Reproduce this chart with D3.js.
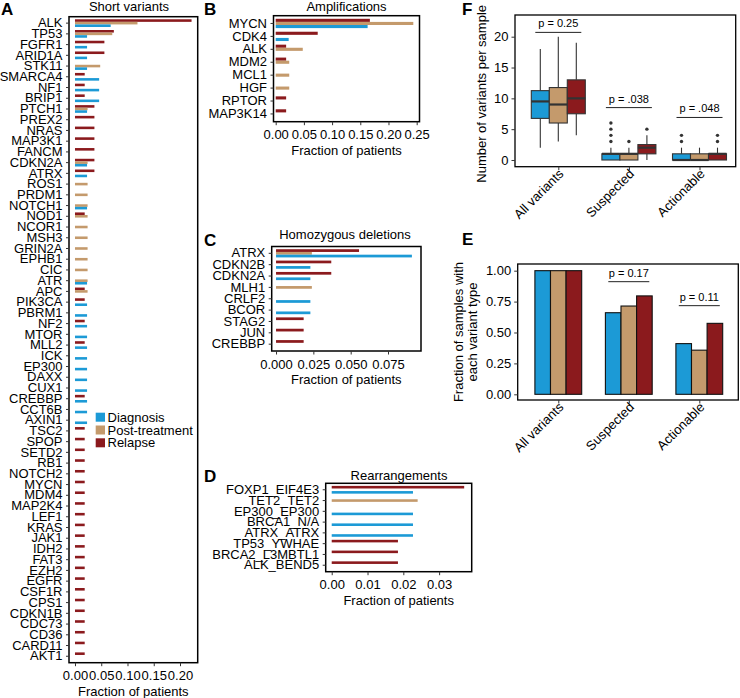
<!DOCTYPE html>
<html><head><meta charset="utf-8">
<script src="https://cdn.jsdelivr.net/npm/d3@7"></script>
<style>
body{margin:0;background:#fff}
svg{display:block}
text{font-family:"Liberation Sans",Arial,Helvetica,sans-serif}
</style>
</head><body>
<svg id="c" width="740" height="698"></svg>
<script>
// ---------------- DATA ----------------
const seriesNames = ["Diagnosis", "Post-treatment", "Relapse"];
const seriesColors = ["#1C9AD6", "#C49A6C", "#8B1A1D"];

// Panel A: short variants
const shortGenes = ["ALK","TP53","FGFR1","ARID1A","STK11","SMARCA4","NF1","BRIP1","PTCH1","PREX2","NRAS","MAP3K1","FANCM","CDKN2A","ATRX","ROS1","PRDM1","NOTCH1","NOD1","NCOR1","MSH3","GRIN2A","EPHB1","CIC","ATR","APC","PIK3CA","PBRM1","NF2","MTOR","MLL2","ICK","EP300","DAXX","CUX1","CREBBP","CCT6B","AXIN1","TSC2","SPOP","SETD2","RB1","NOTCH2","MYCN","MDM4","MAP2K4","LEF1","KRAS","JAK1","IDH2","FAT3","EZH2","EGFR","CSF1R","CPS1","CDKN1B","CDC73","CD36","CARD11","AKT1"];
const shortRelapse = [0.222,0.074,0.056,0.056,0,0.0185,0.0185,0.0185,0.037,0.037,0.037,0.037,0.037,0.037,0.037,0,0,0,0.0185,0,0,0,0,0,0,0.0185,0.0185,0,0.0185,0,0.0185,0,0,0,0,0.0185,0,0,0.0185,0.0185,0.0185,0.0185,0.0185,0.0185,0.0185,0.0185,0.0185,0.0185,0.0185,0.0185,0.0185,0.0185,0.0185,0.0185,0.0185,0.0185,0.0185,0.0185,0.0185,0.0185];
const shortPost    = [0.119,0.071,0,0,0.048,0,0,0,0.024,0,0,0,0,0.024,0,0.024,0.024,0.024,0.024,0.024,0.024,0.024,0.024,0.024,0.024,0.024,0,0,0,0,0,0,0,0,0,0,0,0,0,0,0,0,0,0,0,0,0,0,0,0,0,0,0,0,0,0,0,0,0,0];
const shortDiag    = [0.068,0.023,0.023,0.023,0.023,0.046,0.046,0.046,0.023,0,0,0,0,0.023,0.023,0,0,0.023,0,0,0,0,0,0,0.023,0,0.023,0.023,0.023,0.023,0.023,0.023,0.023,0.023,0.023,0.023,0.023,0.023,0,0,0,0,0,0,0,0,0,0,0,0,0,0,0,0,0,0,0,0,0,0];
const shortTicks = [0, 0.05, 0.10, 0.15, 0.20];

// Panel B: amplifications
const ampGenes = ["MYCN","CDK4","ALK","MDM2","MCL1","HGF","RPTOR","MAP3K14"];
const ampRelapse = [0.167,0.0745,0.0185,0.0185,0,0,0.0185,0.0185];
const ampPost    = [0.244,0,0.048,0.024,0.024,0.024,0,0];
const ampDiag    = [0.163,0.023,0,0,0,0,0,0];
const ampTicks = [0, 0.05, 0.10, 0.15, 0.20, 0.25];

// Panel C: homozygous deletions
const delGenes = ["ATRX","CDKN2B","CDKN2A","MLH1","CRLF2","BCOR","STAG2","JUN","CREBBP"];
const delRelapse = [0.0556,0.037,0.037,0,0,0,0.0185,0.0185,0.0185];
const delPost    = [0.024,0,0,0.024,0,0,0,0,0];
const delDiag    = [0.091,0.023,0.023,0,0.023,0.023,0,0,0];
const delTicks = [0, 0.025, 0.050, 0.075];

// Panel D: rearrangements
const rearGenes = ["FOXP1_EIF4E3","TET2_TET2","EP300_EP300","BRCA1_N/A","ATRX_ATRX","TP53_YWHAE","BRCA2_L3MBTL1","ALK_BEND5"];
const rearRelapse = [0.037,0,0,0,0,0.0185,0.0185,0.0185];
const rearPost    = [0,0.024,0,0,0,0,0,0];
const rearDiag    = [0.0227,0,0.0227,0.0227,0.0227,0,0,0];
const rearTicks = [0, 0.01, 0.02, 0.03];

// Panel F: variants per sample (box stats: min, q1, median, q3, max)
const variantCats = ["All variants", "Suspected", "Actionable"];
const boxDiag    = [[2,6.75,9.5,11.25,18],[0,0,1,1,2],[0,0,0,1,2]];
const boxPost    = [[3,6,9,11.75,20],[0,0,1,1,2],[0,0,0,1,2]];
const boxRelapse = [[4,7.5,10,13,19],[0,1,2,2.5,4],[0,0,1,1,2]];
const outDiag    = [[],[3,4,5,6],[3,4]];
const outPost    = [[],[3],[]];
const outRelapse = [[],[5],[3,4]];
const countTicks = [0,5,10,15,20];
const fPText = ["p = 0.25","p = .038","p = .048"];
const fPLevel = [20.7, 8.5, 6.9];

// Panel E: fraction of samples with each variant type
const fracDiag    = [1, 0.66, 0.41];
const fracPost    = [1, 0.714, 0.357];
const fracRelapse = [1, 0.796, 0.574];
const fracTicks = [0, 0.25, 0.5, 0.75, 1];
const ePCats = ["Suspected","Actionable"];
const ePText = ["p = 0.17","p = 0.11"];
const ePLevel = [0.911, 0.717];

// ---------------- DRAW ----------------
const FONT = '"Liberation Sans",Arial,Helvetica,sans-serif';
const svg = d3.select("#c");
const color = d3.scaleOrdinal().domain(seriesNames).range(seriesColors);

function styleAxis(sel, size) {
  sel.attr("font-size", size).attr("font-family", FONT);
  sel.select(".domain").remove();
  sel.selectAll(".tick line").attr("stroke", "#333").attr("stroke-width", 1);
  sel.selectAll(".tick text").attr("fill", "#000");
}

function barPanel(p) {
  const g = svg.append("g");
  const x = d3.scaleLinear().domain(p.xDomain).range([p.left, p.right]);
  const y = d3.scaleBand().domain(p.genes).range([p.top, p.bottom]).paddingInner(0).paddingOuter(0.1);
  const bw = y.bandwidth();
  const sub = d3.scaleBand().domain(["Relapse","Post-treatment","Diagnosis"]).range([bw*0.14, bw*0.86]);
  const rows = [];
  p.genes.forEach((gn, i) => {
    [["Relapse", p.relapse], ["Post-treatment", p.post], ["Diagnosis", p.diag]].forEach(([s, arr]) => {
      if (arr[i] > 0) rows.push({gene: gn, s: s, v: arr[i]});
    });
  });
  g.append("g").selectAll("rect").data(rows).join("rect")
    .attr("x", x(0))
    .attr("y", d => y(d.gene) + sub(d.s))
    .attr("width", d => x(d.v) - x(0))
    .attr("height", sub.bandwidth())
    .attr("fill", d => color(d.s));
  g.append("rect").attr("x", p.left).attr("y", p.top)
    .attr("width", p.right - p.left).attr("height", p.bottom - p.top)
    .attr("fill", "none").attr("stroke", "#000").attr("stroke-width", 1.5);
  g.append("g").attr("transform", `translate(${p.left},0)`)
    .call(d3.axisLeft(y).tickSize(3).tickPadding(3.5))
    .call(a => styleAxis(a, 13));
  g.append("g").attr("transform", `translate(0,${p.bottom})`)
    .call(d3.axisBottom(x).tickValues(p.ticks).tickFormat(d3.format(p.fmt)).tickSize(3.5).tickPadding(5))
    .call(a => styleAxis(a, 13));
  g.append("text").attr("x", (p.left + p.right) / 2).attr("y", p.bottom + 33)
    .attr("text-anchor", "middle").attr("font-size", 13).text("Fraction of patients");
  g.append("text").attr("x", p.titleX).attr("y", p.titleY)
    .attr("text-anchor", "middle").attr("font-size", 13).text(p.title);
  g.append("text").attr("x", p.labelX).attr("y", p.labelY)
    .attr("font-size", 17).attr("font-weight", "bold").text(p.label);
}

barPanel({genes: shortGenes, relapse: shortRelapse, post: shortPost, diag: shortDiag,
  left: 69, right: 197.7, top: 16.7, bottom: 662.7, xDomain: [-0.0114, 0.2337],
  ticks: shortTicks, fmt: ".2f", title: "Short variants", titleX: 129, titleY: 11,
  label: "A", labelX: 1, labelY: 15});
barPanel({genes: ampGenes, relapse: ampRelapse, post: ampPost, diag: ampDiag,
  left: 273.5, right: 419.5, top: 15.7, bottom: 121.7, xDomain: [-0.0039, 0.2550],
  ticks: ampTicks, fmt: ".2f", title: "Amplifications", titleX: 346.5, titleY: 10.5,
  label: "B", labelX: 204, labelY: 15});
barPanel({genes: delGenes, relapse: delRelapse, post: delPost, diag: delDiag,
  left: 271.7, right: 421, top: 246.5, bottom: 351, xDomain: [-0.0029, 0.0971],
  ticks: delTicks, fmt: ".3f", title: "Homozygous deletions", titleX: 345, titleY: 239,
  label: "C", labelX: 204, labelY: 246});
barPanel({genes: rearGenes, relapse: rearRelapse, post: rearPost, diag: rearDiag,
  left: 325.7, right: 471.7, top: 483.3, bottom: 571.7, xDomain: [-0.00168, 0.0391],
  ticks: rearTicks, fmt: ".2f", title: "Rearrangements", titleX: 399, titleY: 479.5,
  label: "D", labelX: 204, labelY: 482});

// Legend (panel A)
const leg = svg.append("g").attr("transform", "translate(95.7,412.7)");
seriesNames.forEach((s, i) => {
  leg.append("rect").attr("x", 0).attr("y", i * 12.8).attr("width", 9.3).attr("height", 9)
    .attr("fill", color(s));
  leg.append("text").attr("x", 11.8).attr("y", i * 12.8 + 9.2).attr("font-size", 13).text(s);
});

// -------- Panel F: boxplots --------
(function () {
  const L = 515, R = 735.7, T = 15, B = 166.7;
  const g = svg.append("g");
  const x = d3.scalePoint().domain(variantCats).range([558.3, 699.5]);
  const y = d3.scaleLinear().domain([-1.087, 23.52]).range([B, T]);
  const dodge = d3.scaleBand().domain(seriesNames).range([-27, 27]);
  const stats = {Diagnosis: boxDiag, "Post-treatment": boxPost, Relapse: boxRelapse};
  const outs = {Diagnosis: outDiag, "Post-treatment": outPost, Relapse: outRelapse};
  const boxes = [];
  seriesNames.forEach(s => variantCats.forEach((c, ci) => {
    const st = stats[s][ci];
    boxes.push({s, c, min: st[0], q1: st[1], med: st[2], q3: st[3], max: st[4], out: outs[s][ci]});
  }));
  const cx = d => x(d.c) + dodge(d.s) + dodge.bandwidth() / 2;
  const bw = dodge.bandwidth();
  const bg = g.selectAll("g.box").data(boxes).join("g");
  bg.append("line").attr("x1", cx).attr("x2", cx).attr("y1", d => y(d.max)).attr("y2", d => y(d.q3))
    .attr("stroke", "#333").attr("stroke-width", 1.1);
  bg.append("line").attr("x1", cx).attr("x2", cx).attr("y1", d => y(d.q1)).attr("y2", d => y(d.min))
    .attr("stroke", "#333").attr("stroke-width", 1.1);
  bg.append("rect").attr("x", d => cx(d) - bw / 2).attr("width", bw)
    .attr("y", d => y(d.q3)).attr("height", d => y(d.q1) - y(d.q3))
    .attr("fill", d => color(d.s)).attr("stroke", "#333").attr("stroke-width", 1.1);
  bg.append("line").attr("x1", d => cx(d) - bw / 2).attr("x2", d => cx(d) + bw / 2)
    .attr("y1", d => y(d.med)).attr("y2", d => y(d.med))
    .attr("stroke", "#333").attr("stroke-width", 2.2);
  bg.each(function (d) {
    d3.select(this).selectAll("circle").data(d.out).join("circle")
      .attr("cx", cx(d)).attr("cy", v => y(v)).attr("r", 1.7).attr("fill", "#333");
  });
  g.append("rect").attr("x", L).attr("y", T).attr("width", R - L).attr("height", B - T)
    .attr("fill", "none").attr("stroke", "#000").attr("stroke-width", 1.3);
  g.append("g").attr("transform", `translate(${L},0)`)
    .call(d3.axisLeft(y).tickValues(countTicks).tickSize(3.5).tickPadding(3))
    .call(a => styleAxis(a, 13));
  g.append("g").attr("transform", `translate(0,${B})`)
    .call(d3.axisBottom(x).tickSize(3.5).tickFormat(""))
    .call(a => styleAxis(a, 13));
  variantCats.forEach(c => {
    g.append("text").attr("transform", `translate(${x(c) + 6},${B + 8}) rotate(-45)`)
      .attr("text-anchor", "end").attr("font-size", 13).text(c);
  });
  g.append("text").attr("transform", `translate(486,${(T + B) / 2 + 3}) rotate(-90)`)
    .attr("text-anchor", "middle").attr("font-size", 13).text("Number of variants per sample");
  variantCats.forEach((c, i) => {
    g.append("line").attr("x1", x(c) - 23).attr("x2", x(c) + 23)
      .attr("y1", y(fPLevel[i])).attr("y2", y(fPLevel[i])).attr("stroke", "#222").attr("stroke-width", 1);
    g.append("text").attr("x", x(c)).attr("y", y(fPLevel[i]) - 5)
      .attr("text-anchor", "middle").attr("font-size", 11).text(fPText[i]);
  });
  svg.append("text").attr("x", 462).attr("y", 15).attr("font-size", 17).attr("font-weight", "bold").text("F");
})();

// -------- Panel E: bars --------
(function () {
  const L = 517.7, R = 738.3, T = 264, B = 400;
  const g = svg.append("g");
  const x = d3.scalePoint().domain(variantCats).range([558.3, 699.3]);
  const y = d3.scaleLinear().domain([-0.046, 1.054]).range([B, T]);
  const dodge = d3.scaleBand().domain(seriesNames).range([-23.4, 23.4]);
  const vals = {Diagnosis: fracDiag, "Post-treatment": fracPost, Relapse: fracRelapse};
  const bars = [];
  seriesNames.forEach(s => variantCats.forEach((c, ci) => bars.push({s, c, v: vals[s][ci]})));
  g.selectAll("rect.b").data(bars).join("rect")
    .attr("x", d => x(d.c) + dodge(d.s)).attr("width", dodge.bandwidth())
    .attr("y", d => y(d.v)).attr("height", d => y(0) - y(d.v))
    .attr("fill", d => color(d.s)).attr("stroke", "#111").attr("stroke-width", 1.1);
  g.append("rect").attr("x", L).attr("y", T).attr("width", R - L).attr("height", B - T)
    .attr("fill", "none").attr("stroke", "#000").attr("stroke-width", 1.3);
  g.append("g").attr("transform", `translate(${L},0)`)
    .call(d3.axisLeft(y).tickValues(fracTicks).tickFormat(d3.format(".2f")).tickSize(3.5).tickPadding(3))
    .call(a => styleAxis(a, 13));
  g.append("g").attr("transform", `translate(0,${B})`)
    .call(d3.axisBottom(x).tickSize(3.5).tickFormat(""))
    .call(a => styleAxis(a, 13));
  variantCats.forEach(c => {
    g.append("text").attr("transform", `translate(${x(c) + 6},${B + 8}) rotate(-45)`)
      .attr("text-anchor", "end").attr("font-size", 13).text(c);
  });
  const yt = g.append("text").attr("transform", `translate(463,${(T + B) / 2}) rotate(-90)`)
    .attr("text-anchor", "middle").attr("font-size", 13);
  yt.append("tspan").attr("x", 0).attr("dy", 0).text("Fraction of samples with");
  yt.append("tspan").attr("x", 0).attr("dy", 14).text("each variant type");
  ePCats.forEach((c, i) => {
    g.append("line").attr("x1", x(c) - 20.5).attr("x2", x(c) + 20.5)
      .attr("y1", y(ePLevel[i])).attr("y2", y(ePLevel[i])).attr("stroke", "#222").attr("stroke-width", 1);
    g.append("text").attr("x", x(c)).attr("y", y(ePLevel[i]) - 5)
      .attr("text-anchor", "middle").attr("font-size", 11).text(ePText[i]);
  });
  svg.append("text").attr("x", 462).attr("y", 245).attr("font-size", 17).attr("font-weight", "bold").text("E");
})();
</script>
</body></html>
